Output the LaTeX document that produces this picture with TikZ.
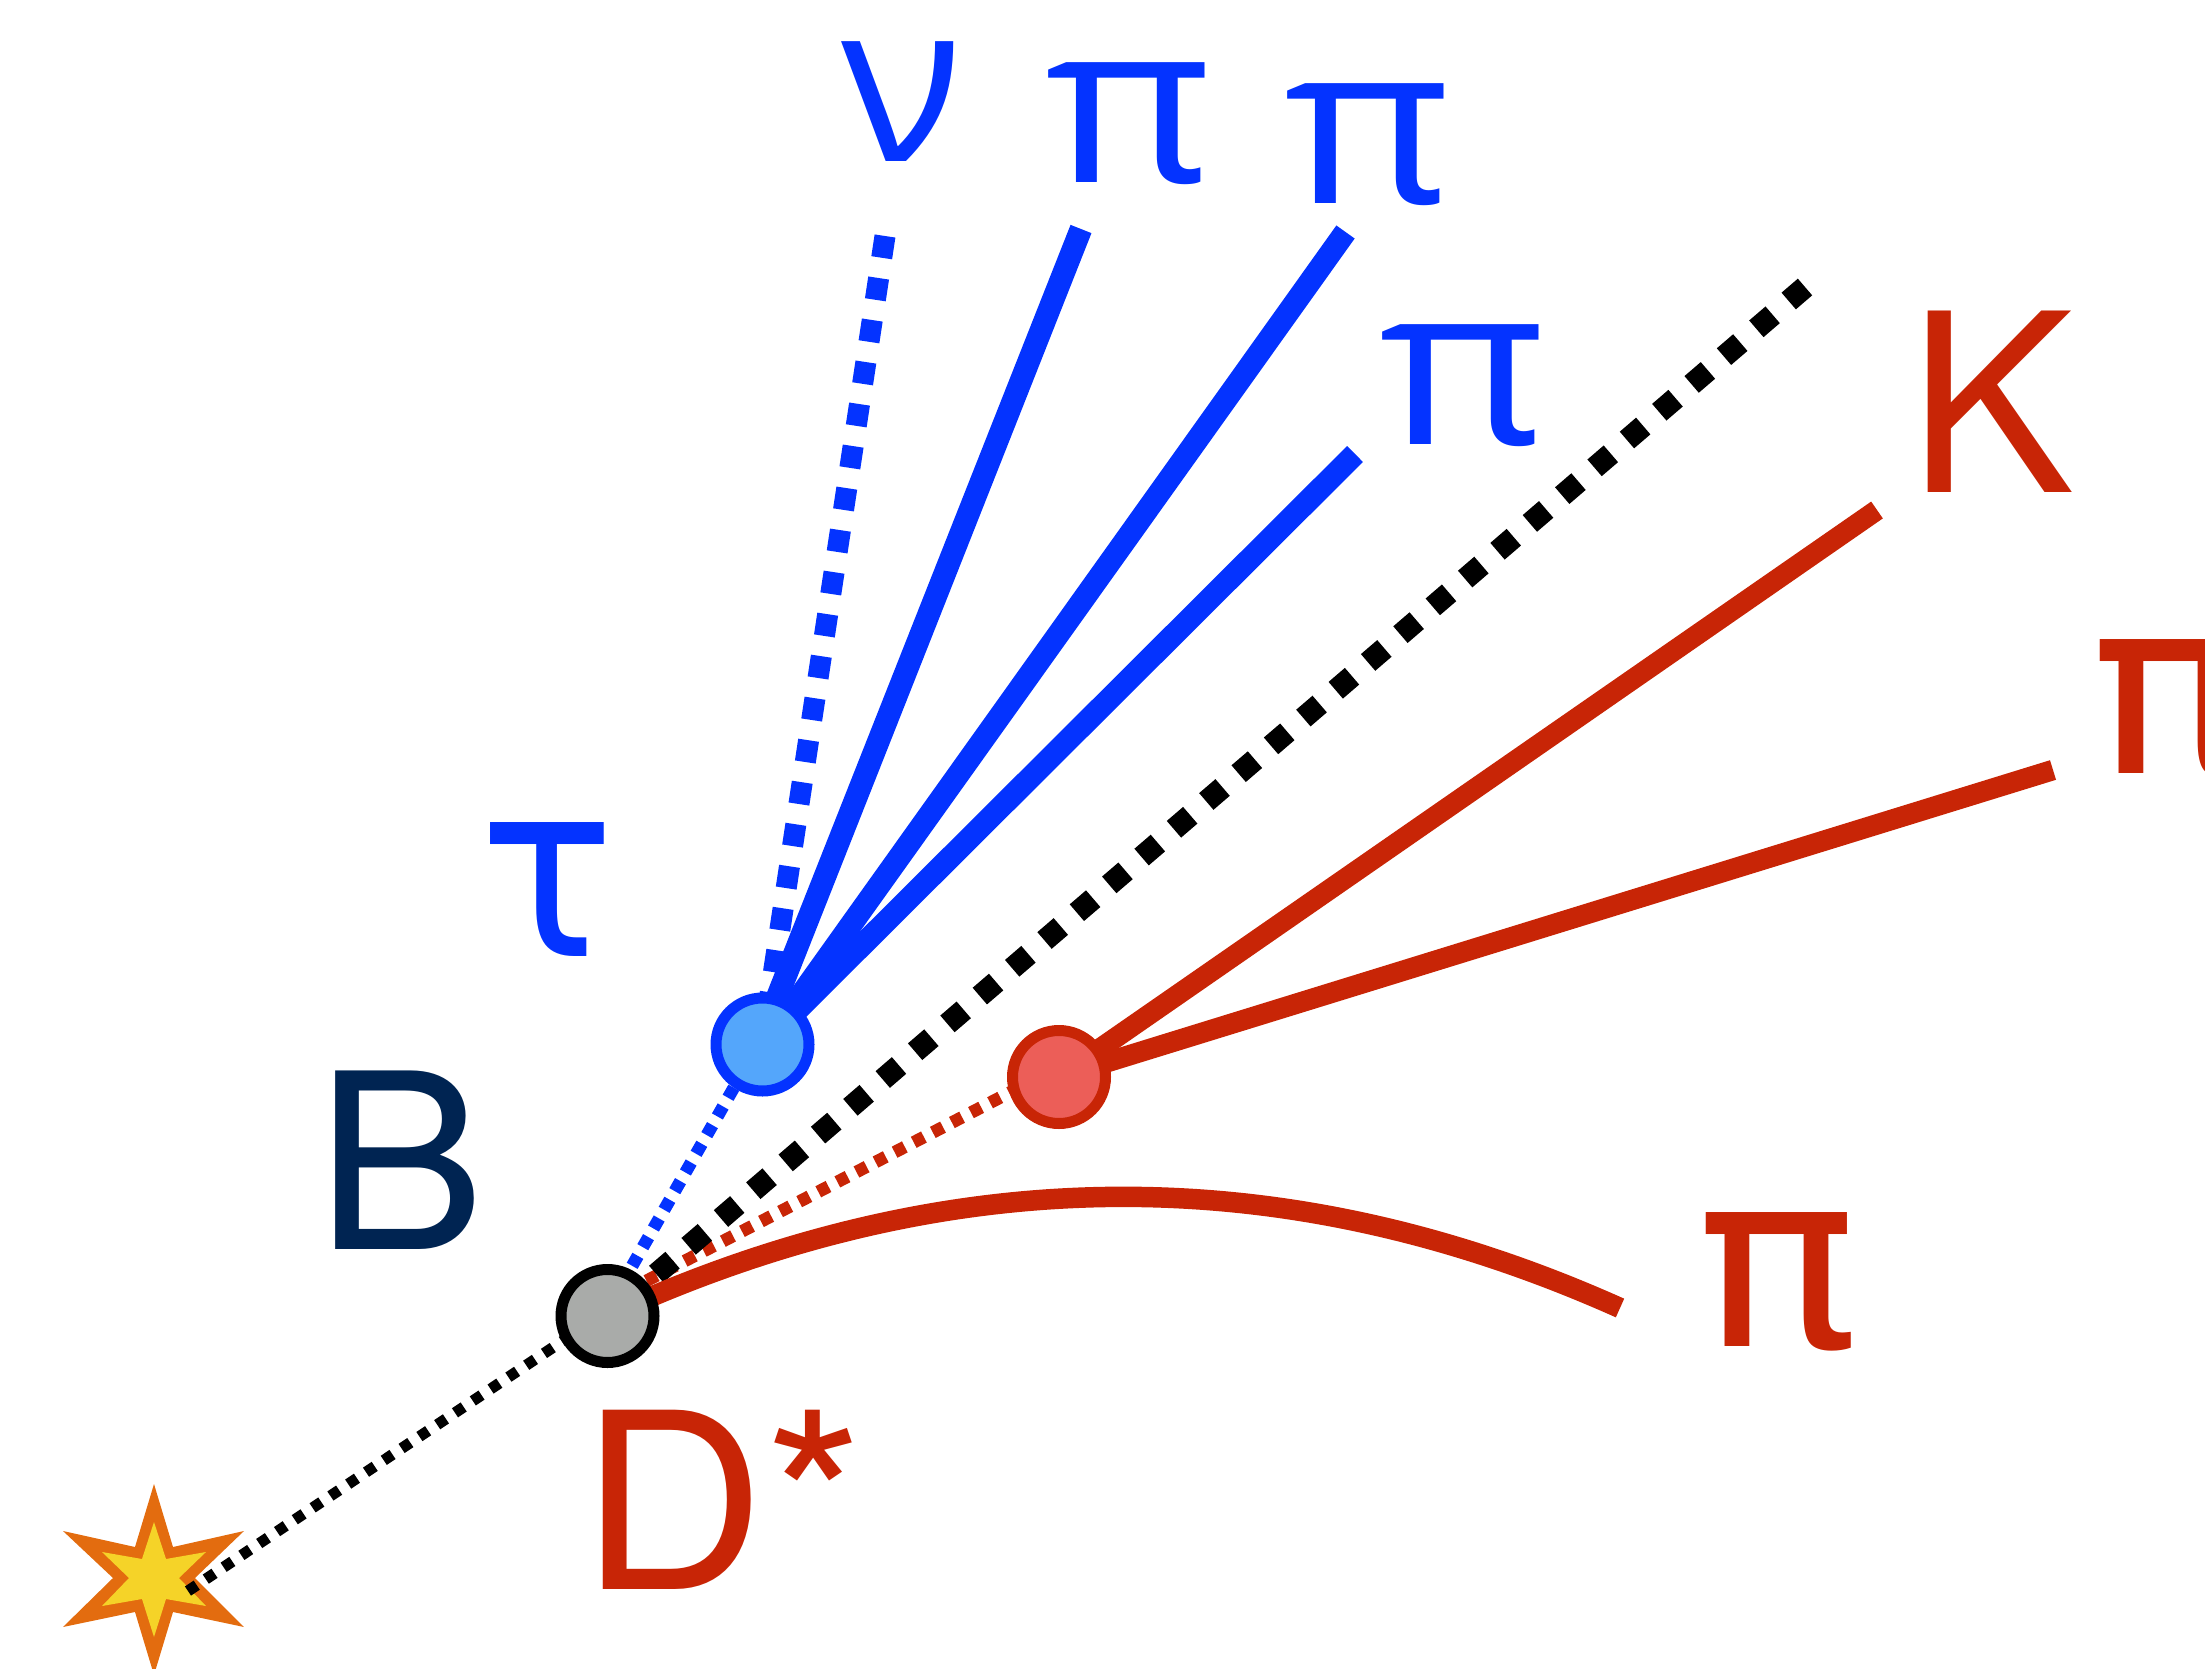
\documentclass[tikz,border=0pt]{standalone}
\usepackage{fontspec}
\setmainfont{TeX Gyre Heros}
\newfontfamily\heroswide[FakeStretch=1.04]{TeX Gyre Heros}
\newfontfamily\opengreek{Open Sans}
\newfontfamily\openwide[FakeStretch=1.15]{Open Sans}
\newfontfamily\dejanarrow[FakeStretch=.92]{DejaVu Sans}
\newfontfamily\dejawide[FakeStretch=1.10]{DejaVu Sans}
\usetikzlibrary{backgrounds}
\definecolor{bluep}{HTML}{0433FF}
\definecolor{bluef}{HTML}{54A6FB}
\definecolor{redp}{HTML}{C82506}
\definecolor{redf}{HTML}{EC5E58}
\definecolor{grayf}{HTML}{A9ABA9}
\definecolor{navyb}{HTML}{002452}
\definecolor{stroran}{HTML}{E36C0F}
\definecolor{stryel}{HTML}{F5D328}
\tikzset{
  vtx/.style={circle,minimum size=93pt,inner sep=0pt,outer sep=0pt,line width=11pt,draw=#1},
  lab/.style={anchor=base west,inner sep=0pt,outer sep=0pt},
  bluelab/.style={lab,text=bluep,font=\fontsize{224}{224}\selectfont\openwide},
  redpi/.style={lab,text=redp,font=\fontsize{245}{245}\selectfont\dejawide},
  solidb/.style={draw=bluep,line width=22.5pt},
  solidr/.style={draw=redp,line width=20.5pt},
  bigdots/.style={line width=22pt,dash pattern=on 21.5pt off 21.16pt},
  smalldots/.style={line width=12.5pt,dash pattern=on 11.5pt off 10pt},
}
\begin{document}
\begin{tikzpicture}[x=1pt,y=-1pt]
\useasboundingbox (0,0) rectangle (2205,1669);
\clip (0,0) rectangle (2205,1669);
% vertices
\node[vtx=black,fill=grayf] (bvtx) at (607.5,1316) {};
\node[vtx=bluep,fill=bluef] (tauvtx) at (762.5,1044.5) {};
\node[vtx=redp,fill=redf] (dvtx) at (1059,1077) {};
% free ends
\coordinate (origin) at (188,1591);
\coordinate (nuend) at (885,236);
\coordinate (pione) at (1081,229);
\coordinate (pitwo) at (1345.5,232);
\coordinate (pithree) at (1355,454);
\coordinate (bigend) at (1805,287);
\coordinate (kend) at (1877,510);
\coordinate (pifour) at (2053,770);
\coordinate (pifive) at (1620,1308);
\begin{pgfonlayer}{background}
  % star
  \fill[stroran] (154,1484)--(173,1547)--(244,1531)--(195,1578)--(244,1627)--(173,1612)--(154,1675)--(135,1612)--(63,1627)--(113,1578)--(63,1531)--(135,1547)--cycle;
  \fill[stryel] (154,1522)--(166,1559)--(206,1552)--(179,1578)--(206,1606)--(166,1599)--(154,1637)--(142,1599)--(102,1606)--(129,1578)--(102,1552)--(142,1559)--cycle;
  % flight lines
  \draw[black,line width=11pt,dash pattern=on 10.5pt off 10.9pt] (origin) -- ([yshift=5pt]bvtx.center);
  \draw[bluep,smalldots,dash phase=14.65pt] ([xshift=-4pt]tauvtx.center) -- ([xshift=-4pt]bvtx.center);
  \draw[redp,smalldots,dash phase=19.85pt] ([yshift=10pt]dvtx.center) -- ([yshift=15pt]bvtx.center);
  \draw[black,bigdots] (bigend) -- (bvtx.center);
  \draw[bluep,line width=21pt,dash pattern=on 22pt off 20.5pt] (nuend) -- (tauvtx.center);
  \draw[solidb] (pione) -- ([xshift=-4pt]tauvtx.center);
  \draw[solidb] (pitwo) -- ([xshift=3pt]tauvtx.center);
  \draw[solidb] (pithree) -- (tauvtx.center);
  \draw[solidr] (kend) -- (dvtx.center);
  \draw[solidr] (pifour) -- (dvtx.center);
  \draw[solidr] (bvtx.center) .. controls (946,1160) and (1283,1157) .. (pifive);
\end{pgfonlayer}
% labels
\node[lab,text=bluep,font=\fontsize{224}{224}\selectfont\opengreek] (lnu) at (841,162) {ν};
\node[bluelab] (lpia) at (1045,183) {π};
\node[bluelab] (lpib) at (1284,204) {π};
\node[bluelab] (lpic) at (1379,444) {π};
\node[lab,text=bluep,font=\fontsize{245}{245}\selectfont\dejanarrow] (ltau) at (479,956) {τ};
\node[lab,text=navyb,font=\fontsize{245}{245}\selectfont\heroswide] (lb) at (315,1249) {B};
\node[lab,text=redp,font=\fontsize{246}{246}\selectfont\heroswide] (ldstar) at (580,1589) {D*};
\node[lab,text=redp,font=\fontsize{249}{249}\selectfont] (lk) at (1908,492) {K};
\node[redpi] (lpid) at (2090,773) {π};
\node[redpi] (lpie) at (1696,1346) {π};
\end{tikzpicture}
\end{document}
